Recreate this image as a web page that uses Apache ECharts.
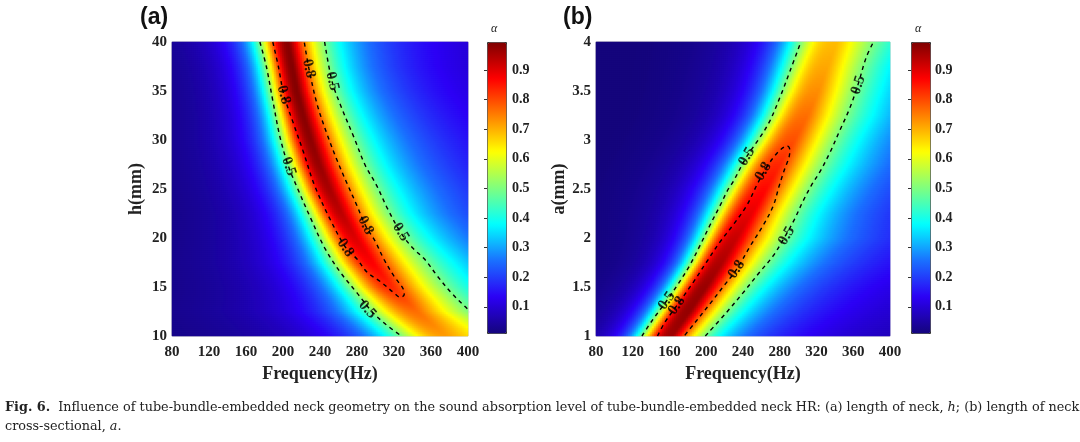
<!DOCTYPE html>
<html>
<head>
<meta charset="utf-8">
<script src="https://cdn.jsdelivr.net/npm/echarts@6/dist/echarts.min.js"></script>
<style>
  html, body { margin: 0; background: #fff; }
  #chart { width: 1080px; height: 442px; }
</style>
</head>
<body>
<div id="chart"></div>
<script>
// ---- values ----
// (a) absorption ridge per neck length h (mm): centre frequency, peak alpha,
// and the frequencies where alpha falls to 0.5 below / above the centre
const hRows = [10, 12.5, 15, 17.5, 20, 22.5, 25, 27.5, 30, 32.5, 35, 37.5, 40];
const hCenter = [376, 345, 318, 297, 279, 264, 251, 240, 231, 223, 216, 211, 206];
const hPeak = [0.72, 0.765, 0.835, 0.875, 0.905, 0.935, 0.955, 0.97, 0.98, 0.985, 0.99, 0.99, 0.985];
const hLeft05 = [328, 296, 273, 254, 240, 228, 216, 206, 198, 192, 186, 181, 175];
const hRight05 = [455, 402, 376, 355, 333, 315, 302, 289, 278, 267, 257, 250, 245];

// (b) same per cross-section a (mm)
const aRows = [1, 1.25, 1.5, 1.75, 2, 2.25, 2.5, 2.75, 3, 3.25, 3.5, 3.75, 4];
const aCenter = [163, 182, 200, 217, 233, 249, 265, 280, 296, 310, 322, 332, 342];
const aPeak = [0.965, 0.975, 0.97, 0.95, 0.925, 0.895, 0.865, 0.835, 0.795, 0.765, 0.735, 0.71, 0.69];
const aLeft05 = [130, 148, 166, 183, 197, 210, 224, 239, 256, 271, 283, 293, 303];
const aRight05 = [199, 223, 245, 267, 286, 298, 313, 328, 341, 354, 363, 371, 382];

// contour lines [frequency, h or a]
const contA05L = [[175,40],[182,37.5],[189,34],[197,30.2],[206,27.3],[216,25],[230,22],[245,19],[262,16.5],[280,14.4],[296,12.5],[311,11.2],[328,10]];
const contA05R = [[245,40],[253,36],[262,33.6],[277,30.2],[289,27.4],[301,25.4],[313,23],[327,20.6],[340,19],[353,17.85],[367,16.1],[382,14.4],[398,12.9],[410,11.8]];
const contA08 = [[189,40],[195,37.5],[201,34.6],[212,31.5],[222,28.8],[234,25.4],[251,21.9],[268,19],[280,17.85],[291,16.5],[306,15.5],[320,14.4],[327,13.95],[331,14.2],[330,14.8],[320,16.1],[309,17.85],[300,19.6],[289,21.3],[280,23.3],[270,25.4],[259,27.8],[248,30.5],[237,33.6],[228,37.3],[223,40]];
const contB05L = [[130,1],[142,1.17],[157,1.36],[170,1.54],[182,1.72],[193,1.92],[204,2.13],[215,2.33],[224,2.5],[229,2.57],[244,2.83],[258,3.02],[269,3.19],[280,3.43],[291,3.7],[303,4]];
const contB05R = [[199,1],[222,1.24],[240,1.44],[258,1.65],[273,1.82],[286,2.02],[296,2.19],[305,2.37],[314,2.53],[324,2.68],[335,2.88],[345,3.09],[356,3.32],[365,3.56],[374,3.84],[382,4]];
const contB08 = [[147,1],[155,1.14],[168,1.31],[186,1.55],[200,1.75],[215,1.96],[229,2.13],[244,2.33],[255,2.54],[263,2.68],[273,2.82],[282,2.91],[288,2.94],[291,2.9],[290,2.82],[286,2.72],[282,2.61],[279,2.52],[273,2.33],[262,2.13],[248,1.92],[233,1.68],[219,1.51],[205,1.34],[188,1.14],[176,1]];

// contour labels [frequency, h or a, text, angle]
const labelsA = [[200.7,34.6,'0.8',-75],[227.9,37.3,'0.8',-77],[253.2,36.0,'0.5',-76],[206.2,27.3,'0.5',-71],
                 [289.3,21.3,'0.8',-63],[327.3,20.6,'0.5',-58],[267.6,19.0,'0.8',-56],[291.2,12.7,'0.5',-48]];
const labelsB = [[244,2.83,'0.5',59],[262,2.68,'0.8',59],[365.4,3.56,'0.5',72],[287.5,2.02,'0.5',60],
                 [233,1.68,'0.8',56],[156.9,1.36,'0.5',55],[167.8,1.31,'0.8',55]];

const cbTicks = [0.1, 0.9];
// jet, with the slightly violet blues of the original
const jet = ['#14057c','#2c00f5','#1a70ff','#00ffff','#7fff7f','#ffff00','#ff7f00','#ff0000','#7f0000'];
const aMin = 0.01, aMax = 0.995;

// ---- field on a fine grid, from the ridge values above ----
function lerp(xs, ys, x) {
  if (x <= xs[0]) return ys[0];
  for (let i = 1; i < xs.length; i++) {
    if (x <= xs[i]) {
      const t = (x - xs[i - 1]) / (xs[i] - xs[i - 1]);
      return ys[i - 1] + t * (ys[i] - ys[i - 1]);
    }
  }
  return ys[ys.length - 1];
}
function alphaAt(f, c, P, l05, r05, pLeft) {
  const d = f - c;
  const p = d < 0 ? pLeft : 1.35;
  const half = d < 0 ? c - l05 : r05 - c;
  const w = half / Math.pow(P / 0.5 - 1, 1 / p);
  const v = P / (1 + Math.pow(Math.abs(d) / w, p));
  return Math.min(aMax, Math.max(aMin, v));
}
// cells of 2x2 px: panel a is 296x294, panel b 294x294
const cells = (n, lo, hi) => Array.from({ length: n }, (_, i) => lo + (i + 0.5) * (hi - lo) / n);
const fCellsA = cells(148, 80, 400);
const fCellsB = cells(147, 80, 400);
const hCells = cells(147, 10, 40);
const aCells = cells(147, 1, 4);

function buildField(rows, center, peak, left05, right05, fCells, yCells, pLeft) {
  const out = [];
  yCells.forEach((y, j) => {
    const c = lerp(rows, center, y), P = lerp(rows, peak, y);
    const l = lerp(rows, left05, y), r = lerp(rows, right05, y);
    fCells.forEach((f, i) => out.push([i, j, alphaAt(f, c, P, l, r, pLeft)]));
  });
  return out;
}
const fieldA = buildField(hRows, hCenter, hPeak, hLeft05, hRight05, fCellsA, hCells, 2.3);
const fieldB = buildField(aRows, aCenter, aPeak, aLeft05, aRight05, fCellsB, aCells, 3.0);

const serif = '"Liberation Serif", "Times New Roman", serif';
const tickLabel = { fontFamily: serif, fontWeight: 'bold', fontSize: 15, color: '#222' };
const nameStyle = { fontFamily: serif, fontWeight: 'bold', fontSize: 18, color: '#222' };

function valueX(grid) {
  return {
    gridIndex: grid, type: 'value', min: 80, max: 400, interval: 40, position: 'bottom',
    name: 'Frequency(Hz)', nameLocation: 'middle', nameGap: 28, nameTextStyle: nameStyle,
    axisLine: { show: false }, axisTick: { show: false }, splitLine: { show: false },
    axisLabel: Object.assign({ margin: 9 }, tickLabel)
  };
}
function valueY(grid, min, max, interval, name) {
  return {
    gridIndex: grid, type: 'value', min, max, interval, position: 'left',
    name, nameLocation: 'middle', nameGap: 27, nameTextStyle: nameStyle,
    axisLine: { show: false }, axisTick: { show: false }, splitLine: { show: false },
    axisLabel: Object.assign({ margin: 5 }, tickLabel)
  };
}
function cbAxis(grid) {
  return {
    gridIndex: grid, type: 'value', min: cbTicks[0], max: cbTicks[1], interval: 0.1, position: 'right',
    axisLine: { show: false }, splitLine: { show: false },
    axisTick: { show: true, inside: true, length: 3, lineStyle: { color: '#333' } },
    axisLabel: { margin: 6, fontFamily: serif, fontWeight: 'bold', fontSize: 14, color: '#222',
                 formatter: v => v.toFixed(1) }
  };
}
function contour(data, xi, yi) {
  return {
    type: 'line', data, xAxisIndex: xi, yAxisIndex: yi, smooth: 0.35, showSymbol: false,
    silent: true, animation: false, z: 5,
    lineStyle: { color: '#000', width: 1.4, type: [4, 4] }
  };
}
function labels(list, xi, yi) {
  return {
    type: 'scatter', xAxisIndex: xi, yAxisIndex: yi, symbolSize: 1, silent: true, animation: false, z: 6,
    itemStyle: { color: 'rgba(0,0,0,0)' },
    data: list.map(d => ({ name: d[2], value: [d[0], d[1]], label: { rotate: d[3] } })),
    label: { show: true, position: 'inside', formatter: '{b}', color: '#000',
             fontFamily: serif, fontWeight: 'bold', fontSize: 15 }
  };
}
function heat(data, xi, yi) {
  return {
    type: 'heatmap', data, xAxisIndex: xi, yAxisIndex: yi, progressive: 0,
    animation: false, silent: true, emphasis: { disabled: true }
  };
}
function colorbar(series, left) {
  return {
    type: 'continuous', seriesIndex: series, dimension: 2, min: aMin, max: aMax,
    inRange: { color: jet }, left, top: 42, itemWidth: 19, itemHeight: 291,
    calculable: false, hoverLink: false, padding: 0, borderColor: '#333', borderWidth: 1
  };
}

const chart = echarts.init(document.getElementById('chart'), null, { renderer: 'canvas' });
const option = {
  animation: false,
  grid: [
    { left: 172, top: 42, width: 296, height: 294, show: true, borderColor: '#bbb', borderWidth: 1 },
    { left: 596, top: 42, width: 294, height: 294, show: true, borderColor: '#bbb', borderWidth: 1 },
    { left: 487, top: 70, width: 19, height: 236.8 },
    { left: 911, top: 70, width: 18, height: 236.8 }
  ],
  xAxis: [
    { gridIndex: 0, type: 'category', data: fCellsA, show: false, position: 'top' },
    valueX(0),
    { gridIndex: 1, type: 'category', data: fCellsB, show: false, position: 'top' },
    valueX(1),
    { gridIndex: 2, type: 'value', show: false },
    { gridIndex: 3, type: 'value', show: false }
  ],
  yAxis: [
    { gridIndex: 0, type: 'category', data: hCells, show: false, position: 'right' },
    valueY(0, 10, 40, 5, 'h(mm)'),
    { gridIndex: 1, type: 'category', data: aCells, show: false, position: 'right' },
    valueY(1, 1, 4, 0.5, 'a(mm)'),
    cbAxis(2),
    cbAxis(3)
  ],
  visualMap: [colorbar(0, 487), colorbar(1, 911)],
  series: [
    heat(fieldA, 0, 0),
    heat(fieldB, 2, 2),
    contour(contA05L, 1, 1),
    contour(contA05R, 1, 1),
    contour(contA08, 1, 1),
    contour(contB05L, 3, 3),
    contour(contB05R, 3, 3),
    contour(contB08, 3, 3),
    labels(labelsA, 1, 1),
    labels(labelsB, 3, 3)
  ],
  graphic: [
    { type: 'text', left: 140, top: 6, style: { text: '(a)', font: 'bold 23px "Liberation Sans", Arial, sans-serif', fill: '#111' } },
    { type: 'text', left: 563, top: 6, style: { text: '(b)', font: 'bold 23px "Liberation Sans", Arial, sans-serif', fill: '#111' } },
    { type: 'text', left: 491, top: 23, style: { text: 'α', font: 'italic 12px ' + serif, fill: '#222' } },
    { type: 'text', left: 915, top: 23, style: { text: 'α', font: 'italic 12px ' + serif, fill: '#222' } },
    { type: 'text', left: 5, top: 401, style: {
        text: '{b|Fig. 6.}  Influence of tube-bundle-embedded neck geometry on the sound absorption level of tube-bundle-embedded neck HR: (a) length of neck, {i|h}; (b) length of neck',
        font: '12.8px "DejaVu Serif", serif', fill: '#222',
        rich: { b: { fontWeight: 'bold', fontFamily: '"DejaVu Serif", serif', fontSize: 12.8 },
                i: { fontStyle: 'italic', fontFamily: '"DejaVu Serif", serif', fontSize: 12.8 } } } },
    { type: 'text', left: 5, top: 420, style: {
        text: 'cross-sectional, {i|a}.',
        font: '12.8px "DejaVu Serif", serif', fill: '#222',
        rich: { i: { fontStyle: 'italic', fontFamily: '"DejaVu Serif", serif', fontSize: 12.8 } } } }
  ]
};
chart.setOption(option);
</script>
</body>
</html>
